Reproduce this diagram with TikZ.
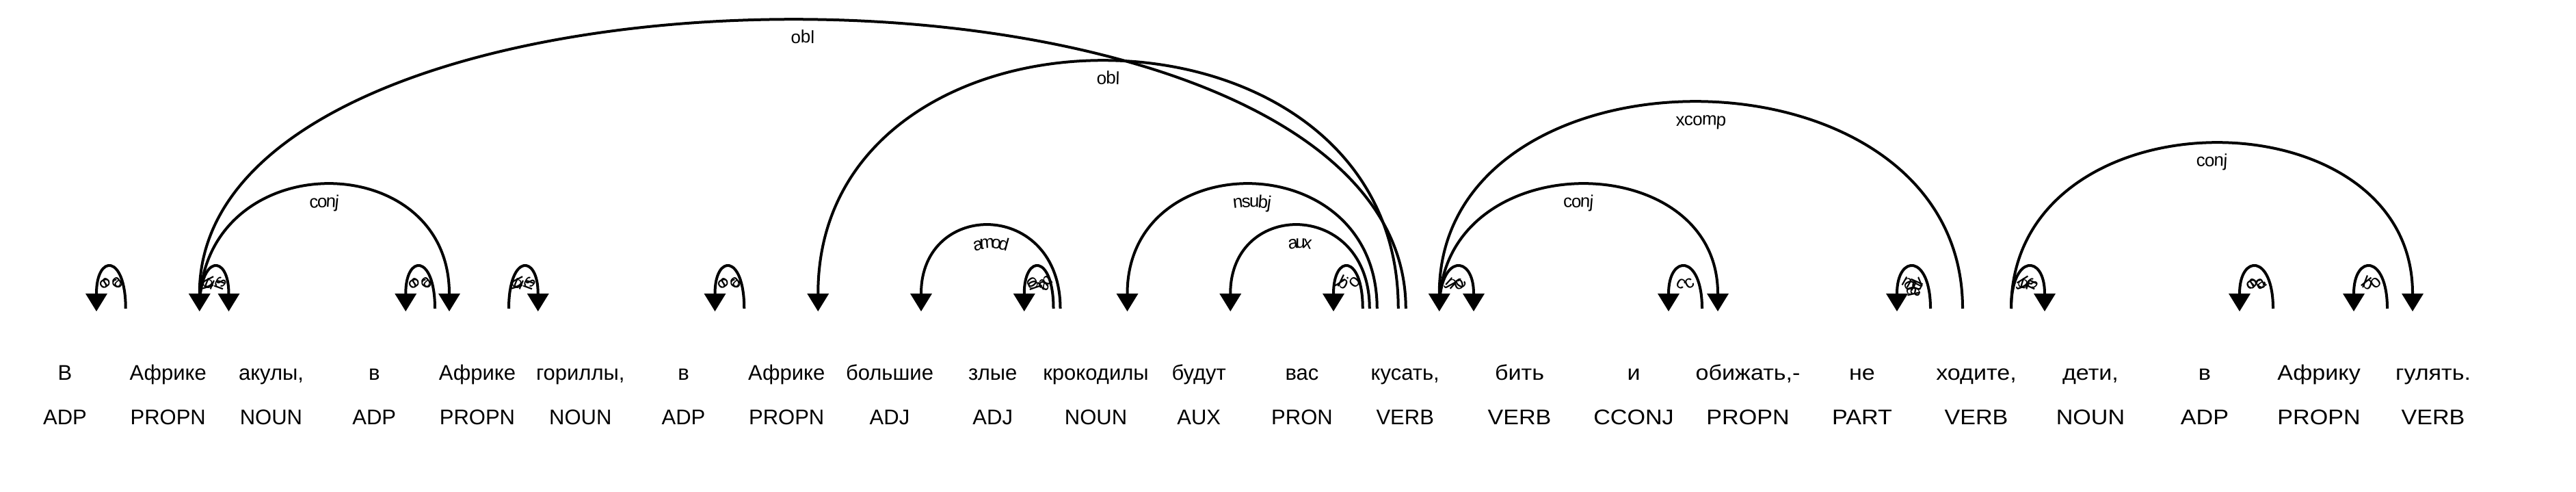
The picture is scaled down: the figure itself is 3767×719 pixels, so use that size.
\documentclass[tikz,border=0pt]{standalone}
\usepackage{fontspec}
\setmainfont{Liberation Sans}
\usepackage{graphicx}
\usetikzlibrary{arrows.meta,calc,decorations.text}

\tikzset{
  word/.style={anchor=base, inner sep=0pt, font=\fontsize{31}{31}\selectfont},
  tag/.style={anchor=base, inner sep=0pt, font=\fontsize{31}{31}\selectfont},
  arcline/.style={line width=4pt, draw=black},
  tipl/.style={arrows={Triangle[width=32pt,length=26pt,line width=0pt]-}},
  tipr/.style={arrows={-Triangle[width=32pt,length=26pt,line width=0pt]}},
}
\newcommand\lblfont{\fontsize{26}{26}\selectfont}
\newcommand\sx[1]{\scalebox{1.1}[1]{#1}}
\newcommand\mkc[3]{\coordinate (#1) at ($(#2|-b)+(#3,0)$);}
% arc with arrow at its left end
\newcommand\arcl[4]{%
  \draw[arcline,tipl] ($(#1)+(0,4)$) .. controls ($(#1)+(0,-80*#3)$) and ($(#2)+(0,-80*#3)$) .. (#2);
  \path[decorate,decoration={text along path,text align=center,raise=-32pt,text={|\lblfont|#4}}]
    (#1) .. controls ($(#1)+(0,-80*#3)$) and ($(#2)+(0,-80*#3)$) .. (#2);}
% arc with arrow at its right end
\newcommand\arcr[4]{%
  \draw[arcline,tipr] (#1) .. controls ($(#1)+(0,-80*#3)$) and ($(#2)+(0,-80*#3)$) .. ($(#2)+(0,4)$);
  \path[decorate,decoration={text along path,text align=center,raise=-32pt,text={|\lblfont|#4}}]
    (#1) .. controls ($(#1)+(0,-80*#3)$) and ($(#2)+(0,-80*#3)$) .. (#2);}

\begin{document}
\begin{tikzpicture}[x=1pt,y=-1pt]
\useasboundingbox (0,0) rectangle (3767,719);
\coordinate (b) at (0,451);

% words
\node[word] (w0)  at (95,555)     {В};
\node[word] (w1)  at (245.75,555) {Африке};
\node[word] (w2)  at (396.5,555)  {акулы,};
\node[word] (w3)  at (547.25,555) {в};
\node[word] (w4)  at (698,555)    {Африке};
\node[word] (w5)  at (848.75,555) {гориллы,};
\node[word] (w6)  at (999.5,555)  {в};
\node[word] (w7)  at (1150.25,555){Африке};
\node[word] (w8)  at (1301,555)   {большие};
\node[word] (w9)  at (1451.75,555){злые};
\node[word] (w10) at (1602.5,555) {крокодилы};
\node[word] (w11) at (1753.25,555){будут};
\node[word] (w12) at (1904,555)   {вас};
\node[word] (w13) at (2054.75,555){кусать,};
\node[word] (w14) at (2222,555)   {\sx{бить}};
\node[word] (w15) at (2389,555)   {\sx{и}};
\node[word] (w16) at (2556,555)   {\sx{обижать,-}};
\node[word] (w17) at (2723,555)   {\sx{не}};
\node[word] (w18) at (2890,555)   {\sx{ходите,}};
\node[word] (w19) at (3057,555)   {\sx{дети,}};
\node[word] (w20) at (3224,555)   {\sx{в}};
\node[word] (w21) at (3391,555)   {\sx{Африку}};
\node[word] (w22) at (3558,555)   {\sx{гулять.}};

% tags
\node[tag] (t0)  at (95,620)     {ADP};
\node[tag] (t1)  at (245.75,620) {PROPN};
\node[tag] (t2)  at (396.5,620)  {NOUN};
\node[tag] (t3)  at (547.25,620) {ADP};
\node[tag] (t4)  at (698,620)    {PROPN};
\node[tag] (t5)  at (848.75,620) {NOUN};
\node[tag] (t6)  at (999.5,620)  {ADP};
\node[tag] (t7)  at (1150.25,620){PROPN};
\node[tag] (t8)  at (1301,620)   {ADJ};
\node[tag] (t9)  at (1451.75,620){ADJ};
\node[tag] (t10) at (1602.5,620) {NOUN};
\node[tag] (t11) at (1753.25,620){AUX};
\node[tag] (t12) at (1904,620)   {PRON};
\node[tag] (t13) at (2054.75,620){VERB};
\node[tag] (t14) at (2222,620)   {\sx{VERB}};
\node[tag] (t15) at (2389,620)   {\sx{CCONJ}};
\node[tag] (t16) at (2556,620)   {\sx{PROPN}};
\node[tag] (t17) at (2723,620)   {\sx{PART}};
\node[tag] (t18) at (2890,620)   {\sx{VERB}};
\node[tag] (t19) at (3057,620)   {\sx{NOUN}};
\node[tag] (t20) at (3224,620)   {\sx{ADP}};
\node[tag] (t21) at (3391,620)   {\sx{PROPN}};
\node[tag] (t22) at (3558,620)   {\sx{VERB}};

% arc anchors
\mkc{s0}{w0}{46} \mkc{s1}{w1}{46} \mkc{s3}{w3}{46} \mkc{s4}{w4}{46}
\mkc{s6}{w6}{46} \mkc{s7}{w7}{46} \mkc{s8}{w8}{46} \mkc{s9}{w9}{46}
\mkc{s10}{w10}{46} \mkc{s11}{w11}{46} \mkc{s12}{w12}{46} \mkc{s13}{w13}{50}
\mkc{s15}{w15}{51} \mkc{s17}{w17}{51} \mkc{s18}{w18}{51} \mkc{s20}{w20}{51}
\mkc{s21}{w21}{51}
\mkc{e1}{w1}{-62} \mkc{e2}{w2}{-62} \mkc{e4c}{w4}{-41} \mkc{e4}{w4}{-62}
\mkc{e5}{w5}{-62} \mkc{e7}{w7}{-62} \mkc{e13o}{w13}{1} \mkc{e13p}{w13}{-10}
\mkc{e10b}{w10}{-52} \mkc{e10}{w10}{-62} \mkc{e13n}{w13}{-41} \mkc{e13a}{w13}{-52}
\mkc{e13}{w13}{-62} \mkc{e14}{w14}{-67} \mkc{e16c}{w16}{-44} \mkc{e18x}{w18}{-20}
\mkc{e16}{w16}{-67} \mkc{e18}{w18}{-67} \mkc{e19}{w19}{-67} \mkc{e22c}{w22}{-30}
\mkc{e21}{w21}{-67} \mkc{e22}{w22}{-67}

% arcs
\arcl{s0}{e1}{1}{case}
\arcr{s1}{e2}{1}{nsubj}
\arcr{s1}{e4c}{3}{conj}
\arcl{s3}{e4}{1}{case}
\arcr{s4}{e5}{1}{nsubj}
\arcl{s6}{e7}{1}{case}
\arcl{s1}{e13o}{7}{obl}
\arcl{s7}{e13p}{6}{obl}
\arcl{s8}{e10b}{2}{amod}
\arcl{s9}{e10}{1}{amod}
\arcl{s10}{e13n}{3}{nsubj}
\arcl{s11}{e13a}{2}{aux}
\arcl{s12}{e13}{1}{obj}
\arcr{s13}{e14}{1}{conj}
\arcr{s13}{e16c}{3}{conj}
\arcl{s13}{e18x}{5}{xcomp}
\arcl{s15}{e16}{1}{cc}
\arcl{s17}{e18}{1}{advmod}
\arcr{s18}{e19}{1}{nsubj}
\arcr{s18}{e22c}{4}{conj}
\arcl{s20}{e21}{1}{case}
\arcl{s21}{e22}{1}{obl}
\end{tikzpicture}
\end{document}
